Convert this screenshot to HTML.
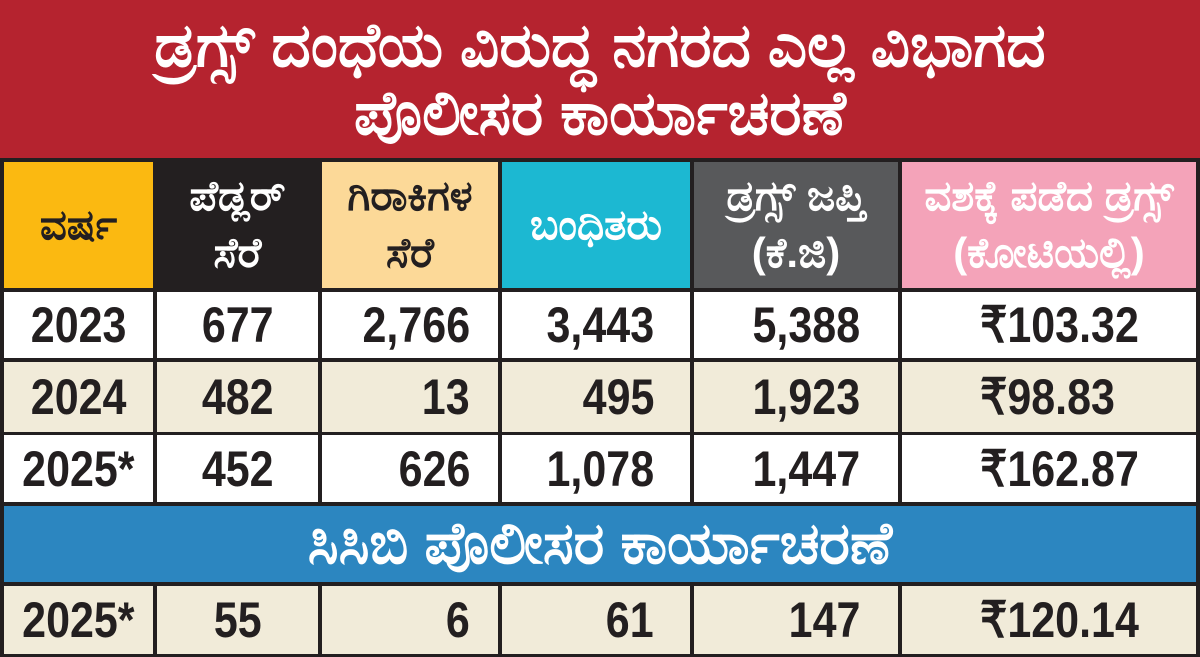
<!DOCTYPE html>
<html><head><meta charset="utf-8"><style>
body{margin:0;width:1200px;height:657px;overflow:hidden;background:#231f20;position:relative;font-family:"Liberation Sans",sans-serif;font-weight:bold}
div{position:absolute;box-sizing:border-box}
.c{display:flex;align-items:center;justify-content:center;text-align:center}
.n{font-size:50px;color:#231f20;display:flex;align-items:center}
.n span{display:inline-block;transform:scaleX(0.86)}
.n.m span{transform-origin:center}
.n.r span{transform-origin:right}
.n.l span{transform-origin:left}
.h{font-size:42px;line-height:1.35}
</style></head><body>
<div class="c" style="left:0;top:0;width:1200px;height:158px;background:#b5232f;color:#fff;font-size:61px;line-height:68px">ಡ್ರಗ್ಸ್ ದಂಧೆಯ ವಿರುದ್ಧ ನಗರದ ಎಲ್ಲ ವಿಭಾಗದ<br>ಪೊಲೀಸರ ಕಾರ್ಯಾಚರಣೆ</div>

<div class="c h" style="left:4px;top:162px;width:149px;height:126px;background:#fbb911;color:#231f20">ವರ್ಷ</div>
<div class="c h" style="left:157px;top:162px;width:161px;height:126px;background:#231f20;color:#fff">ಪೆಡ್ಲರ್<br>ಸೆರೆ</div>
<div class="c h" style="left:322px;top:162px;width:176px;height:126px;background:#fcd998;color:#231f20">ಗಿರಾಕಿಗಳ<br>ಸೆರೆ</div>
<div class="c h" style="left:502px;top:162px;width:188px;height:126px;background:#1cb8d2;color:#fff">ಬಂಧಿತರು</div>
<div class="c h" style="left:694px;top:162px;width:204px;height:126px;background:#58595b;color:#fff">ಡ್ರಗ್ಸ್ ಜಪ್ತಿ<br>(ಕೆ.ಜಿ)</div>
<div class="c h" style="left:902px;top:162px;width:294px;height:126px;background:#f4a3b9;color:#fff">ವಶಕ್ಕೆ ಪಡೆದ ಡ್ರಗ್ಸ್<br>(ಕೋಟಿಯಲ್ಲಿ)</div>

<div style="left:4px;top:292px;width:1192px;height:66px;background:#fff"></div>
<div style="left:4px;top:362px;width:1192px;height:70px;background:#f1ebd9"></div>
<div style="left:4px;top:435px;width:1192px;height:67px;background:#fff"></div>
<div style="left:4px;top:586px;width:1192px;height:68px;background:#f1ebd9"></div>
<div style="left:153px;top:292px;width:4px;height:210px;background:#231f20"></div>
<div style="left:318px;top:292px;width:4px;height:210px;background:#231f20"></div>
<div style="left:498px;top:292px;width:4px;height:210px;background:#231f20"></div>
<div style="left:690px;top:292px;width:4px;height:210px;background:#231f20"></div>
<div style="left:898px;top:292px;width:4px;height:210px;background:#231f20"></div>
<div style="left:153px;top:586px;width:4px;height:68px;background:#231f20"></div>
<div style="left:318px;top:586px;width:4px;height:68px;background:#231f20"></div>
<div style="left:498px;top:586px;width:4px;height:68px;background:#231f20"></div>
<div style="left:690px;top:586px;width:4px;height:68px;background:#231f20"></div>
<div style="left:898px;top:586px;width:4px;height:68px;background:#231f20"></div>

<div class="c" style="left:4px;top:506px;width:1192px;height:76px;background:#2c86c0;color:#fff;font-size:58px">ಸಿಸಿಬಿ ಪೊಲೀಸರ ಕಾರ್ಯಾಚರಣೆ</div>

<div class="n m" style="left:4px;top:292px;width:149px;height:66px;justify-content:center"><span>2023</span></div>
<div class="n m" style="left:157px;top:292px;width:161px;height:66px;justify-content:center"><span>677</span></div>
<div class="n r" style="left:322px;top:292px;width:148px;height:66px;justify-content:flex-end"><span>2,766</span></div>
<div class="n r" style="left:502px;top:292px;width:152px;height:66px;justify-content:flex-end"><span>3,443</span></div>
<div class="n r" style="left:694px;top:292px;width:166px;height:66px;justify-content:flex-end"><span>5,388</span></div>
<div class="n l" style="left:980px;top:292px;width:210px;height:66px"><span>₹103.32</span></div>

<div class="n m" style="left:4px;top:362px;width:149px;height:70px;justify-content:center"><span>2024</span></div>
<div class="n m" style="left:157px;top:362px;width:161px;height:70px;justify-content:center"><span>482</span></div>
<div class="n r" style="left:322px;top:362px;width:148px;height:70px;justify-content:flex-end"><span>13</span></div>
<div class="n r" style="left:502px;top:362px;width:152px;height:70px;justify-content:flex-end"><span>495</span></div>
<div class="n r" style="left:694px;top:362px;width:166px;height:70px;justify-content:flex-end"><span>1,923</span></div>
<div class="n l" style="left:980px;top:362px;width:210px;height:70px"><span>₹98.83</span></div>

<div class="n m" style="left:4px;top:435px;width:149px;height:67px;justify-content:center"><span>2025*</span></div>
<div class="n m" style="left:157px;top:435px;width:161px;height:67px;justify-content:center"><span>452</span></div>
<div class="n r" style="left:322px;top:435px;width:148px;height:67px;justify-content:flex-end"><span>626</span></div>
<div class="n r" style="left:502px;top:435px;width:152px;height:67px;justify-content:flex-end"><span>1,078</span></div>
<div class="n r" style="left:694px;top:435px;width:166px;height:67px;justify-content:flex-end"><span>1,447</span></div>
<div class="n l" style="left:980px;top:435px;width:210px;height:67px"><span>₹162.87</span></div>

<div class="n m" style="left:4px;top:586px;width:149px;height:68px;justify-content:center"><span>2025*</span></div>
<div class="n m" style="left:157px;top:586px;width:161px;height:68px;justify-content:center"><span>55</span></div>
<div class="n r" style="left:322px;top:586px;width:148px;height:68px;justify-content:flex-end"><span>6</span></div>
<div class="n r" style="left:502px;top:586px;width:152px;height:68px;justify-content:flex-end"><span>61</span></div>
<div class="n r" style="left:694px;top:586px;width:166px;height:68px;justify-content:flex-end"><span>147</span></div>
<div class="n l" style="left:980px;top:586px;width:210px;height:68px"><span>₹120.14</span></div>
</body></html>
